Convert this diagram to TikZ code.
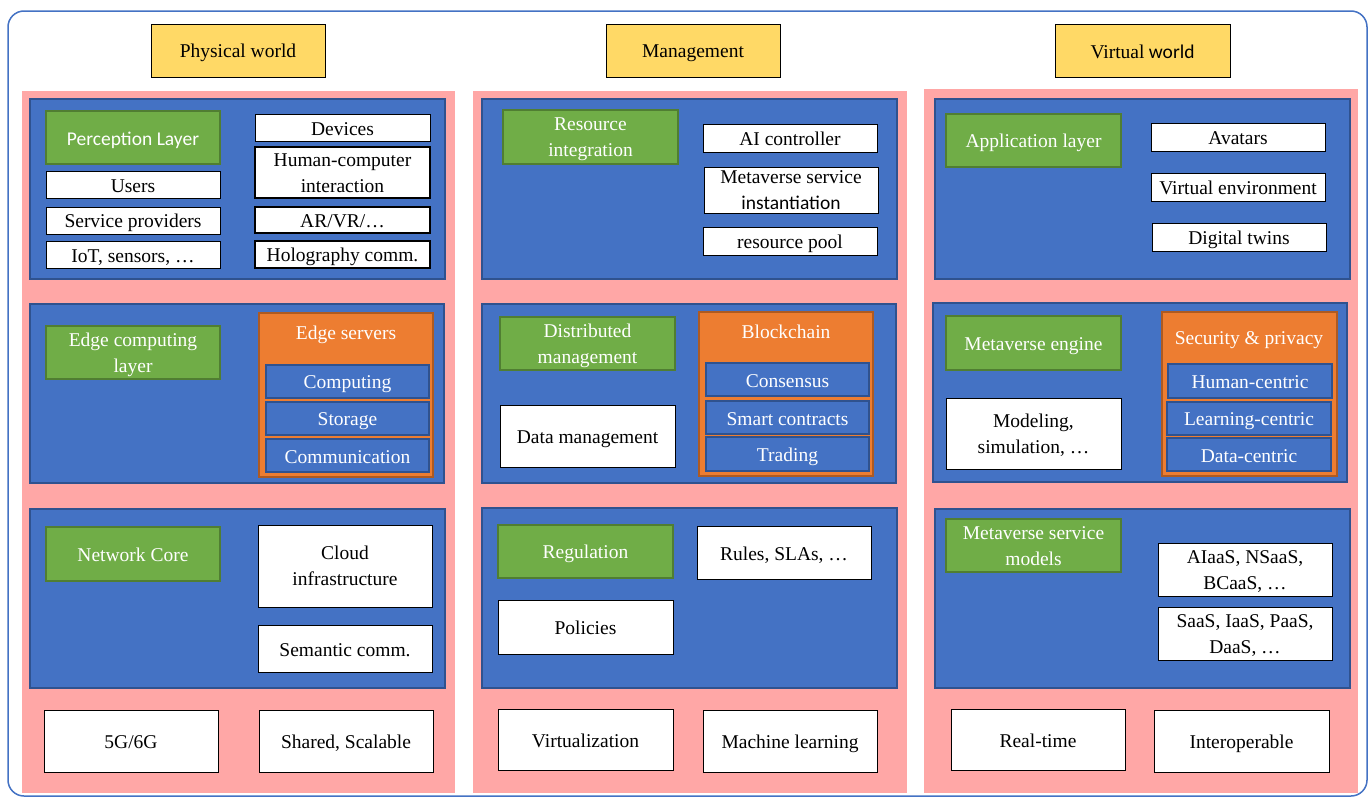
\documentclass[tikz,border=0pt]{standalone}
\usepackage{fontspec}
\setmainfont{Liberation Serif}
\newfontfamily\calib{Carlito}
\definecolor{pinkbg}{HTML}{FFA7A6}
\definecolor{bluef}{HTML}{4472C4}
\definecolor{blued}{HTML}{2F528F}
\definecolor{greenf}{HTML}{70AD47}
\definecolor{greend}{HTML}{507E32}
\definecolor{orangef}{HTML}{ED7D31}
\definecolor{oranged}{HTML}{AE5A21}
\definecolor{yellowf}{HTML}{FFD966}
\newcommand\mystrut{\rule[-3pt]{0pt}{21.5pt}}
\newcommand\tl[2]{\smash{\raisebox{-1.5pt}{\begin{tabular}{@{}c@{}}#1\\#2\end{tabular}}}\vphantom{$\vcenter{\hbox{\rule{0pt}{40pt}}}$}}
\tikzset{
  base/.style={inner sep=0pt, outer sep=0pt, align=center, font=\fontsize{19.5}{26}\selectfont,
    execute at begin node=\mystrut, execute at end node=\mystrut},
  outerframe/.style={base, draw=bluef, line width=1.5pt, rounded corners=16pt},
  panel/.style={base, fill=pinkbg},
  layer/.style={base, fill=bluef, draw=blued, line width=1.2pt},
  greenbox/.style={base, fill=greenf, draw=greend, line width=1.6pt, text=white},
  orangebox/.style={base, fill=orangef, draw=oranged, line width=1.6pt},
  subbox/.style={base, fill=bluef, draw=blued, line width=1.6pt, text=white},
  whitebox/.style={base, fill=white, draw=black, line width=1pt},
  thickwhite/.style={base, fill=white, draw=black, line width=1.8pt},
  titlebox/.style={base, fill=yellowf, draw=black, line width=1pt},
  wtext/.style={base, text=white}
}
\newcommand\bx[7]{\node[#1, minimum width={#5-#3}, minimum height={#6-#4}] (#2) at ({(#3+#5)/2},{(#4+#6)/2}) {#7};}
\begin{document}
\begin{tikzpicture}[x=1pt,y=-1pt]
\fill[white] (0,0) rectangle (1372,798);
\useasboundingbox (0,0) rectangle (1372,798);
\bx{outerframe}{outer}{8}{11}{1367}{796}{}
% titles
\bx{titlebox}{tPhys}{151}{24}{325}{77}{Physical world}
\bx{titlebox}{tMgmt}{606}{24}{780}{77}{Management}
\bx{titlebox}{tVirt}{1055}{24}{1230}{77}{Virtual{\calib\ world}}
% ---------- left column ----------
\bx{panel}{panelL}{22}{91}{455}{793}{}
\bx{layer}{L1}{30}{99}{445}{279}{}
\bx{greenbox}{gPerc}{46}{111}{220}{164}{\calib Perception Layer}
\bx{whitebox}{wUsers}{46}{171}{220}{198}{Users}
\bx{whitebox}{wSP}{46}{207}{220}{234}{Service providers}
\bx{whitebox}{wIoT}{46}{241}{220}{268}{IoT, sensors, …}
\bx{whitebox}{wDev}{255}{114}{430}{141}{Devices}
\bx{thickwhite}{wHCI}{255}{147}{430}{198}{\tl{Human-computer}{interaction}}
\bx{thickwhite}{wAR}{255}{207}{430}{233}{AR/VR/…}
\bx{thickwhite}{wHolo}{255}{241}{430}{268}{Holography comm.}
\bx{layer}{L2}{30}{304}{444}{483}{}
\bx{greenbox}{gEdge}{46}{326}{220}{379}{\tl{Edge computing}{layer}}
\bx{orangebox}{oEdge}{259}{313}{433}{477}{}
\node[wtext] (tEdge) at (346,332) {Edge servers};
\bx{subbox}{bComp}{266}{365}{429}{398}{Computing}
\bx{subbox}{bStor}{266}{402}{429}{435}{Storage}
\bx{subbox}{bComm}{266}{439}{429}{472}{Communication}
\bx{layer}{L3}{30}{509}{445}{688}{}
\bx{greenbox}{gNet}{46}{527}{220}{581}{Network Core}
\bx{whitebox}{wCloud}{258}{525}{432}{607}{\tl{Cloud}{infrastructure}}
\bx{whitebox}{wSem}{258}{625}{432}{672}{Semantic comm.}
\bx{whitebox}{w5g}{44}{710}{218}{772}{5G/6G}
\bx{whitebox}{wShared}{259}{710}{433}{772}{Shared, Scalable}
% ---------- middle column ----------
\bx{panel}{panelM}{473}{91}{907}{793}{}
\bx{layer}{M1}{482}{99}{897}{279}{}
\bx{greenbox}{gRes}{503}{110}{678}{164}{\tl{Resource}{integration}}
\bx{whitebox}{wAI}{703}{124}{877}{152}{AI controller}
\bx{whitebox}{wMSI}{704}{167}{878}{213}{\tl{Metaverse service}{\calib instantiation}}
\bx{whitebox}{wPool}{703}{227}{877}{255}{resource pool}
\bx{layer}{M2}{482}{304}{896}{483}{}
\bx{greenbox}{gDist}{500}{317}{675}{370}{\tl{Distributed}{management}}
\bx{whitebox}{wData}{500}{405}{675}{467}{Data management}
\bx{orangebox}{oBlock}{699}{312}{873}{476}{}
\node[wtext] (tBlock) at (786,331) {Blockchain};
\bx{subbox}{bCons}{706}{363}{869}{396}{Consensus}
\bx{subbox}{bSmart}{706}{401}{869}{434}{Smart contracts}
\bx{subbox}{bTrad}{706}{437}{869}{471}{Trading}
\bx{layer}{M3}{482}{508}{897}{688}{}
\bx{greenbox}{gReg}{498}{525}{673}{578}{Regulation}
\bx{whitebox}{wRules}{697}{526}{871}{579}{Rules, SLAs, …}
\bx{whitebox}{wPol}{498}{600}{673}{654}{Policies}
\bx{whitebox}{wVirt}{498}{709}{673}{770}{Virtualization}
\bx{whitebox}{wML}{703}{710}{877}{772}{Machine learning}
% ---------- right column ----------
\bx{panel}{panelR}{924}{89}{1358}{793}{}
\bx{layer}{R1}{935}{99}{1350}{279}{}
\bx{greenbox}{gApp}{946}{114}{1121}{167}{Application layer}
\bx{whitebox}{wAvat}{1151}{123}{1325}{151}{Avatars}
\bx{whitebox}{wVE}{1151}{173}{1325}{201}{Virtual environment}
\bx{whitebox}{wDT}{1152}{223}{1326}{251}{Digital twins}
\bx{layer}{R2}{933}{303}{1347}{482}{}
\bx{greenbox}{gEng}{946}{316}{1121}{370}{Metaverse engine}
\bx{whitebox}{wMod}{946}{398}{1121}{469}{\tl{Modeling,}{simulation, …}}
\bx{orangebox}{oSec}{1162}{312}{1337}{476}{}
\node[wtext] (tSec) at (1249,337) {Security \& privacy};
\bx{subbox}{bHum}{1168}{364}{1332}{398}{Human-centric}
\bx{subbox}{bLearn}{1167}{402}{1331}{435}{Learning-centric}
\bx{subbox}{bDataC}{1167}{438}{1331}{471}{Data-centric}
\bx{layer}{R3}{935}{509}{1350}{688}{}
\bx{greenbox}{gMSM}{946}{519}{1121}{572}{\tl{Metaverse service}{models}}
\bx{whitebox}{wAIaaS}{1158}{543}{1332}{596}{\tl{AIaaS, NSaaS,}{BCaaS, …}}
\bx{whitebox}{wSaaS}{1158}{607}{1332}{660}{\tl{SaaS, IaaS, PaaS,}{DaaS, …}}
\bx{whitebox}{wRT}{951}{709}{1125}{770}{Real-time}
\bx{whitebox}{wInter}{1154}{710}{1329}{772}{Interoperable}
\end{tikzpicture}
\end{document}
